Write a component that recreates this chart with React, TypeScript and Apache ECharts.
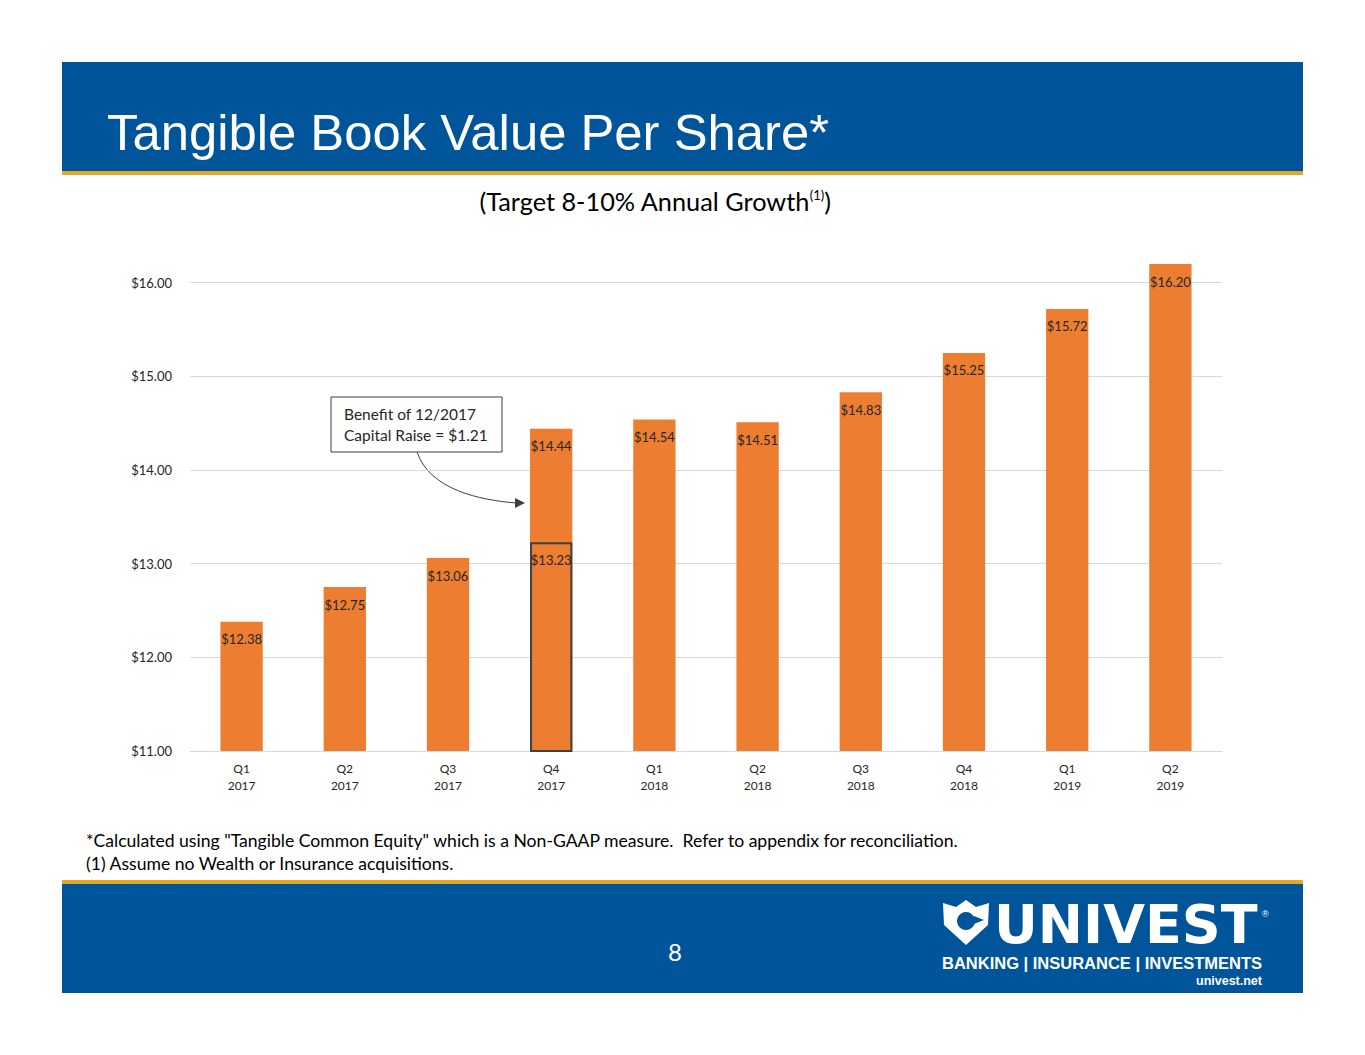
import React, { useEffect, useRef } from "react";
import * as echarts from "echarts";

const categories = ["Q1\n2017", "Q2\n2017", "Q3\n2017", "Q4\n2017", "Q1\n2018", "Q2\n2018", "Q3\n2018", "Q4\n2018", "Q1\n2019", "Q2\n2019"];
const values = [12.38, 12.75, 13.06, 14.44, 14.54, 14.51, 14.83, 15.25, 15.72, 16.2];
const preRaise = [null, null, null, 13.23, null, null, null, null, null, null];
const yTicks = [11, 12, 13, 14, 15, 16];
const yMax = 16.2;

const BLUE = "#00559a";
const GOLD = "#e2a928";
const ORANGE = "#ed7d31";
const FONT = "Lato, 'Open Sans', sans-serif";

export default function App() {
  const ref = useRef<HTMLDivElement>(null);
  useEffect(() => {
    if (!ref.current) return;
    const chart = echarts.init(ref.current, null, { renderer: "svg" });
    const fmt = (v: number) => "$" + v.toFixed(2);
    chart.setOption({
      animation: false,
      backgroundColor: "#ffffff",
      grid: { left: 190, right: 143, top: 264, bottom: 304, containLabel: false },
      xAxis: {
        type: "category",
        data: categories,
        axisLine: { show: true, lineStyle: { color: "#d9d9d9", width: 1 } },
        axisTick: { show: false },
        axisLabel: { color: "#262626", fontSize: 12, fontFamily: FONT, lineHeight: 17, margin: 9 },
      },
      yAxis: {
        type: "value",
        min: yTicks[0],
        max: yMax,
        interval: 1,
        axisLine: { show: false },
        axisTick: { show: false },
        splitLine: { showMaxLine: false, lineStyle: { color: "#d9d9d9", width: 1 } },
        axisLabel: {
          showMaxLabel: false,
          color: "#262626",
          fontSize: 13,
          fontFamily: FONT,
          margin: 18,
          formatter: (v: number) => (yTicks.indexOf(Math.round(v * 100) / 100) >= 0 ? fmt(v) : ""),
        },
      },
      series: [
        {
          type: "bar",
          data: values,
          barWidth: "41%",
          itemStyle: { color: ORANGE },
          label: {
            show: true,
            position: "insideTop",
            distance: 11,
            color: "#262626",
            fontSize: 13,
            fontFamily: FONT,
            formatter: (p: any) => fmt(p.value),
          },
          z: 2,
        },
        {
          type: "bar",
          data: preRaise,
          barWidth: "41%",
          barGap: "-100%",
          itemStyle: { color: "rgba(0,0,0,0)", borderColor: "#404040", borderWidth: 2 },
          label: {
            show: true,
            position: "insideTop",
            distance: 11,
            color: "#262626",
            fontSize: 13,
            fontFamily: FONT,
            formatter: (p: any) => (p.value == null ? "" : fmt(p.value)),
          },
          z: 3,
        },
      ],
      graphic: [
        { type: "rect", shape: { x: 62, y: 62, width: 1241, height: 110 }, style: { fill: BLUE }, silent: true },
        { type: "rect", shape: { x: 62, y: 171, width: 1241, height: 4 }, style: { fill: GOLD }, silent: true },
        {
          type: "text",
          x: 107,
          y: 132,
          style: { text: "Tangible Book Value Per Share*", fill: "#ffffff", font: "50.8px 'Liberation Sans', Arial, sans-serif", verticalAlign: "middle" },
        },
        {
          type: "text",
          x: 655,
          y: 201,
          style: {
            text: "{a|(Target 8-10% Annual Growth}{s|(1)}{a|)}",
            align: "center",
            verticalAlign: "middle",
            rich: {
              a: { fontSize: 25.3, fontFamily: FONT, fill: "#000000" },
              s: { fontSize: 13, fontFamily: FONT, fill: "#000000", verticalAlign: "top", padding: [0, 0, 12, 0] },
            },
          },
        },
        { type: "rect", shape: { x: 331, y: 397, width: 171, height: 55 }, style: { fill: "#ffffff", stroke: "#404040", lineWidth: 1 } },
        { type: "text", x: 344, y: 414, style: { text: "Benefit of 12/2017", fill: "#262626", font: "15.5px " + FONT, verticalAlign: "middle" } },
        { type: "text", x: 344, y: 435, style: { text: "Capital Raise = $1.21", fill: "#262626", font: "15.5px " + FONT, verticalAlign: "middle" } },
        {
          type: "bezierCurve",
          shape: { x1: 417, y1: 452, cpx1: 430, cpy1: 490, cpx2: 480, cpy2: 500, x2: 516, y2: 503 },
          style: { stroke: "#404040", lineWidth: 1, fill: "none" },
        },
        { type: "polygon", shape: { points: [[525, 503], [515, 498], [515, 508]] }, style: { fill: "#404040" } },
        {
          type: "text",
          x: 86,
          y: 840,
          style: { text: "*Calculated using \"Tangible Common Equity\" which is a Non-GAAP measure.  Refer to appendix for reconciliation.", fill: "#000000", font: "17.6px " + FONT, verticalAlign: "middle" },
        },
        { type: "text", x: 86, y: 863, style: { text: "(1) Assume no Wealth or Insurance acquisitions.", fill: "#000000", font: "17.6px " + FONT, verticalAlign: "middle" } },
        { type: "rect", shape: { x: 62, y: 880, width: 1241, height: 4 }, style: { fill: GOLD }, silent: true },
        { type: "rect", shape: { x: 62, y: 884, width: 1241, height: 109 }, style: { fill: BLUE }, silent: true },
        { type: "text", x: 675, y: 951, style: { text: "8", fill: "#ffffff", font: "24px " + FONT, align: "center", verticalAlign: "middle" } },
        {
          type: "polygon",
          shape: { points: [[943, 903], [956, 907], [966, 900], [976, 907], [989, 903], [988, 925], [966, 945], [944, 925]] },
          style: { fill: "#ffffff" },
        },
        { type: "circle", shape: { cx: 966, cy: 921, r: 9 }, style: { fill: BLUE } },
        { type: "polygon", shape: { points: [[974, 916], [984, 920], [974, 924]] }, style: { fill: BLUE } },
        {
          type: "text",
          x: 994,
          y: 924,
          style: { text: "UNIVEST", fill: "#ffffff", font: "bold 54px 'DejaVu Sans', sans-serif", verticalAlign: "middle" },
        },
        { type: "text", x: 1262, y: 914, style: { text: "®", fill: "#ffffff", font: "9px 'Liberation Sans', Arial, sans-serif", verticalAlign: "middle" } },
        {
          type: "text",
          x: 942,
          y: 963,
          style: { text: "BANKING | INSURANCE | INVESTMENTS", fill: "#ffffff", font: "bold 16.5px 'Liberation Sans', Arial, sans-serif", verticalAlign: "middle" },
        },
        {
          type: "text",
          x: 1262,
          y: 981,
          style: { text: "univest.net", fill: "#ffffff", font: "bold 12.5px 'Liberation Sans', Arial, sans-serif", align: "right", verticalAlign: "middle" },
        },
      ],
    });
    return () => chart.dispose();
  }, []);
  return <div ref={ref} style={{ position: "absolute", left: 0, top: 0, width: 1365, height: 1055 }} />;
}
